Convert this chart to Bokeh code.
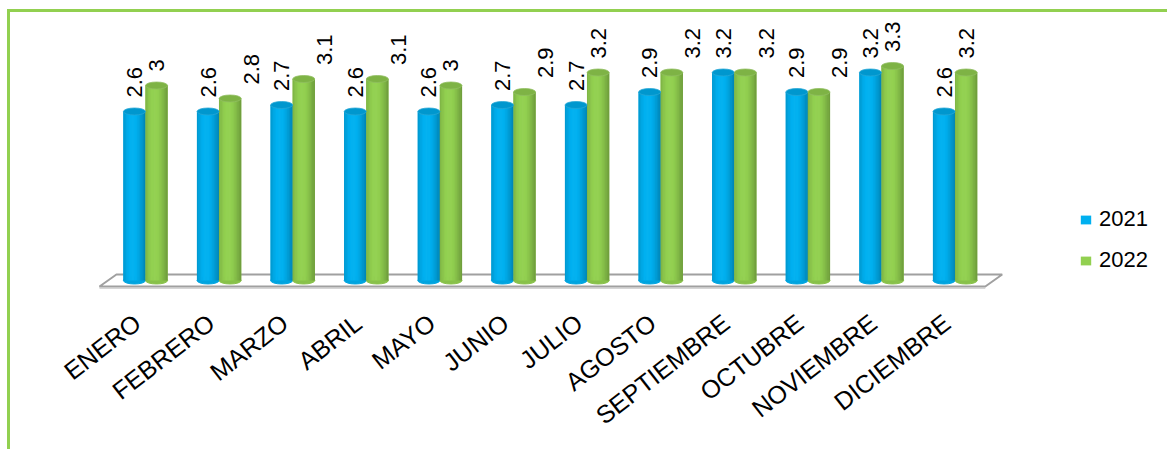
import math
from bokeh.plotting import figure
from bokeh.models import Range1d, FixedTicker, ColumnDataSource, Legend, LegendItem
from bokeh.core.properties import value
from bokeh.embed import file_html
from bokeh.resources import INLINE

# ---------------- data ----------------
months = ["ENERO", "FEBRERO", "MARZO", "ABRIL", "MAYO", "JUNIO", "JULIO",
          "AGOSTO", "SEPTIEMBRE", "OCTUBRE", "NOVIEMBRE", "DICIEMBRE"]
series_names = ["2021", "2022"]
values_2021 = [2.6, 2.6, 2.7, 2.6, 2.6, 2.7, 2.7, 2.9, 3.2, 2.9, 3.2, 2.6]
values_2022 = [3.0, 2.8, 3.1, 3.1, 3.0, 2.9, 3.2, 3.2, 3.2, 2.9, 3.3, 3.2]

# ---------------- style / layout ----------------
BLUE = "#00B0F0"
GREEN = "#92D050"
FONT = "Liberation Sans"

W, H = 1160, 440
PX_X = 73.6          # px per month group
PX_Y = 65.0          # px per value unit
X0 = 135             # canvas px of first group centre
Y0 = 268             # canvas px of value 0
FRAME_BOTTOM = 288

BAR_W = 0.30         # each cylinder width (group units)
N_STRIPS = 16
TICK_SHIFT = -0.11   # category labels sit slightly left of the groups
# extra horizontal shift (px) of some 2022 data labels, as in the original
LABEL_SHIFT_2022 = [0, 1, 1, 1, 0, 1, 0, 1, 1, 1, 0, 0]

x_start = -X0 / PX_X
x_end = x_start + W / PX_X
y_end = Y0 / PX_Y
y_start = -(FRAME_BOTTOM - Y0) / PX_Y


def shade(hex_color, f):
    r, g, b = (int(hex_color[i:i + 2], 16) for i in (1, 3, 5))
    if f <= 1:
        r, g, b = r * f, g * f, b * f
    else:
        t = f - 1
        r, g, b = r + (255 - r) * t, g + (255 - g) * t, b + (255 - b) * t
    return "#%02x%02x%02x" % (int(round(r)), int(round(g)), int(round(b)))


def profile(t):
    return 0.80 + 0.22 * math.cos((t - 0.42) * math.pi)


p = figure(width=W, height=H, output_backend="svg", toolbar_location=None,
           x_range=Range1d(x_start, x_end), y_range=Range1d(y_start, y_end),
           y_axis_location=None, min_border_left=0, min_border_right=0,
           min_border_top=0, min_border_bottom=H - FRAME_BOTTOM,
           outline_line_color=None, background_fill_color="white",
           border_fill_color="white")
p.styles = {"border-top": "3px solid #92D050", "border-left": "3px solid #92D050",
            "margin-left": "7px", "margin-top": "9px"}
p.xgrid.visible = False
p.ygrid.visible = False

# floor (3D plane)
n = len(months)
fl_front_l, fl_front_r = -0.625, (n - 1) + 0.41
depth_dx = 0.23
depth_dy = 0.092
p.patch([fl_front_l, fl_front_l + depth_dx, fl_front_r + depth_dx, fl_front_r],
        [-depth_dy, depth_dy, depth_dy, -depth_dy],
        fill_color="white", line_color="#A0A0A0", line_width=2)
p.line([fl_front_l, fl_front_r], [-depth_dy - 0.025, -depth_dy - 0.025],
       line_color="#C8C8C8", line_width=1.5)

# base bars (full colour) per series
x_2021 = [i - BAR_W / 2 for i in range(n)]
x_2022 = [i + BAR_W / 2 for i in range(n)]
r21 = p.vbar(x=x_2021, top=values_2021, bottom=0, width=BAR_W,
             fill_color=BLUE, line_color=None)
r22 = p.vbar(x=x_2022, top=values_2022, bottom=0, width=BAR_W,
             fill_color=GREEN, line_color=None)

# cylinder shading
strip_x, strip_top, strip_col = [], [], []
cap_x, cap_y, cap_col, base_col = [], [], [], []
for s, (xs, vals, base) in enumerate([(x_2021, values_2021, BLUE),
                                      (x_2022, values_2022, GREEN)]):
    for xc, v in zip(xs, vals):
        left = xc - BAR_W / 2
        for k in range(N_STRIPS):
            t = (k + 0.5) / N_STRIPS
            strip_x.append(left + t * BAR_W)
            strip_top.append(v)
            strip_col.append(shade(base, profile(t)))
        cap_x.append(xc)
        cap_y.append(v)
        cap_col.append(shade(base, 0.86))
        base_col.append(shade(base, 0.93))

p.ellipse(x=cap_x, y=[0] * len(cap_x), width=BAR_W, height=7, height_units="screen",
          fill_color=base_col, line_color=base_col)
p.vbar(x=strip_x, top=strip_top, bottom=0, width=BAR_W / N_STRIPS * 1.2,
       fill_color=strip_col, line_color=None)
p.ellipse(x=cap_x, y=cap_y, width=BAR_W, height=7, height_units="screen",
          fill_color=cap_col, line_color=[shade(c, 1.15) for c in cap_col], line_width=0.8)

# data labels
lab = ColumnDataSource(dict(
    x=x_2021 + x_2022,
    y=values_2021 + values_2022,
    text=[f"{v:g}" for v in values_2021 + values_2022],
    xoff=[0] * n + [21 * s for s in LABEL_SHIFT_2022],
))
p.text(x="x", y="y", text="text", source=lab, angle=math.pi / 2,
       x_offset="xoff", y_offset=-14, text_align="left", text_baseline="middle",
       text_font=value(FONT), text_font_size="22px", text_color="black")

# legend
legend = Legend(items=[LegendItem(label=series_names[0], renderers=[r21]),
                       LegendItem(label=series_names[1], renderers=[r22])],
                location=(1069, 27), orientation="vertical",
                glyph_width=13, glyph_height=11, label_standoff=7,
                label_height=21, spacing=15, padding=0, margin=0,
                border_line_color=None, background_fill_alpha=0,
                label_text_font=FONT, label_text_font_size="22px",
                label_text_color="black")
p.add_layout(legend)

# category axis
ticks = [i + TICK_SHIFT for i in range(n)]
p.xaxis.ticker = FixedTicker(ticks=ticks)
p.xaxis.major_label_overrides = {t: m for t, m in zip(ticks, months)}
p.xaxis.major_label_orientation = 0.66
p.xaxis.axis_line_color = None
p.xaxis.major_tick_line_color = None
p.xaxis.minor_tick_line_color = None
p.xaxis.major_tick_out = 0
p.xaxis.major_label_standoff = 19
p.xaxis.major_label_text_font = FONT
p.xaxis.major_label_text_font_size = "25px"
p.xaxis.major_label_text_color = "black"

open("out.html", "w").write(file_html(p, INLINE))
